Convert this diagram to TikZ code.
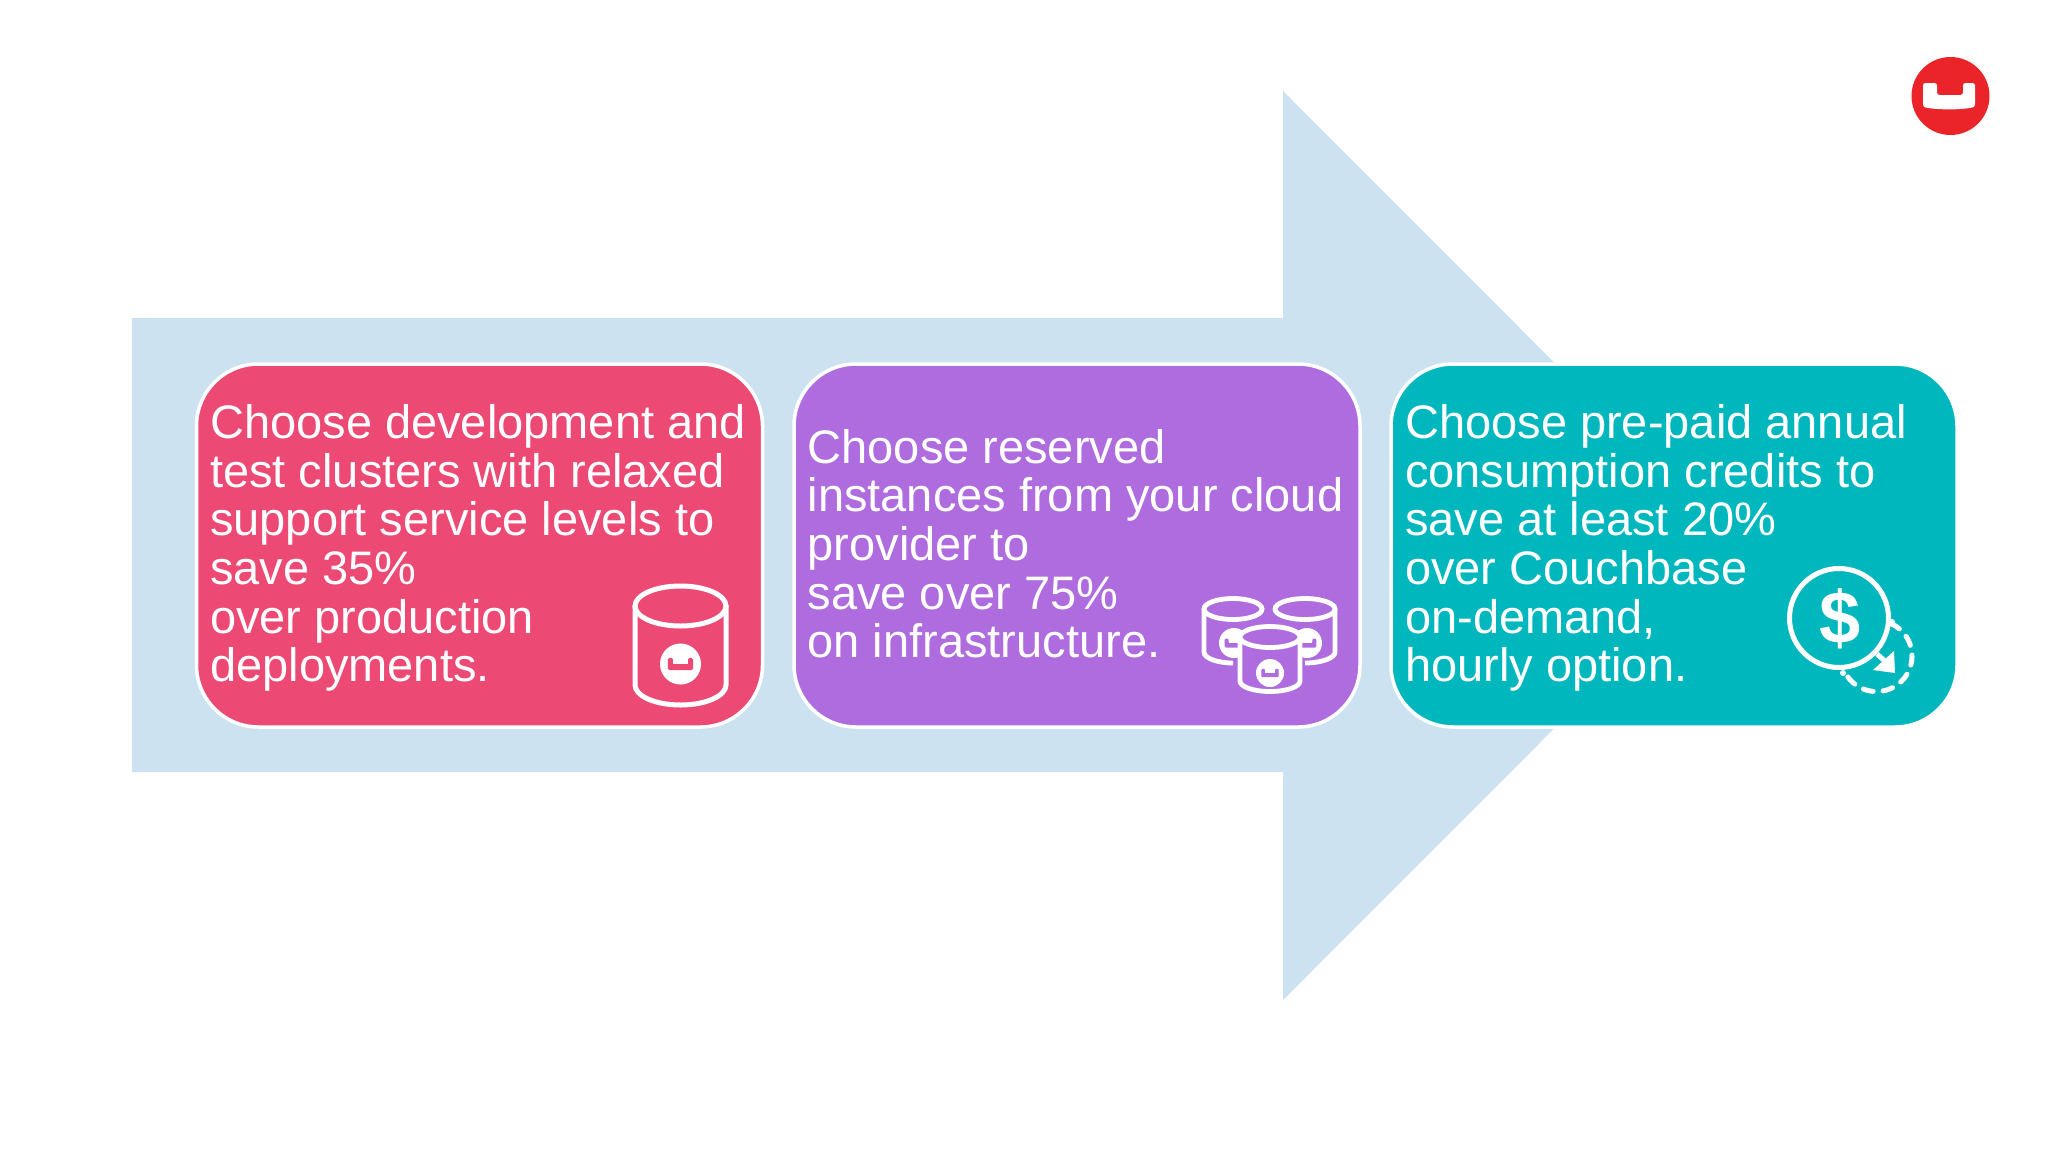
\documentclass[tikz,border=0pt]{standalone}
\usepackage{fontspec}
\setmainfont{Liberation Sans}
\definecolor{arrowblue}{HTML}{CCE2F1}
\definecolor{boxred}{HTML}{EC4A74}
\definecolor{boxpurple}{HTML}{AF6CDE}
\definecolor{boxteal}{HTML}{00B7BD}
\definecolor{logored}{HTML}{EA2429}
\tikzset{
  card/.style={draw=white,line width=3.5pt,rounded corners=62pt,minimum width=566pt,minimum height=363pt,inner sep=0pt},
  cardtext/.style={text=white,anchor=north west,align=left,inner sep=0pt,font=\fontsize{47}{48.6}\selectfont},
  icon/.style={draw=white,line width=5pt},
  iconthin/.style={draw=white,line width=4.8pt},
}
% #1 centre, #2 radius, #3 notch colour: Couchbase disc
\newcommand{\badge}[3]{%
  \fill[white] (#1) circle[radius=#2];
  \begin{scope}[shift={(#1)},x=#2pt,y=-#2pt]
    \fill[#3,rounded corners=0.08*#2pt] (-0.62,-0.3) -- (-0.36,-0.3) -- (-0.36,0) -- (0.36,0) -- (0.36,-0.3) -- (0.62,-0.3) -- (0.62,0.3) -- (-0.62,0.3) -- cycle;
    \fill[white] (-0.36,-0.32) rectangle (0.36,0);
  \end{scope}}
\begin{document}
\begin{tikzpicture}[x=1pt,y=-1pt]
\useasboundingbox (0,0) rectangle (2048,1152);
\fill[white] (0,0) rectangle (2048,1152);
% big arrow
\fill[arrowblue] (132,318) -- (1283,318) -- (1283,91) -- (1737,545.5) -- (1283,1000) -- (1283,772) -- (132,772) -- cycle;
% cards
\node[card,fill=boxred] (red) at (479.5,545.5) {};
\node[card,fill=boxpurple] (purple) at (1077,545.5) {};
\node[card,fill=boxteal] (teal) at (1674,545.5) {};
% texts
\node[cardtext] (redtext) at (210,404.5) {Choose development and\\test clusters with relaxed\\support service levels to\\save 35\%\\over production\\deployments.};
\node[cardtext] (purpletext) at (807.5,429) {Choose reserved\\instances from your cloud\\provider to\\save over 75\%\\on infrastructure.};
\node[cardtext] (tealtext) at (1405,404.5) {Choose pre-paid annual\\consumption credits to\\save at least 20\%\\over Couchbase\\on-demand,\\hourly option.};
% red icon: one cylinder
\draw[icon] (635,605) -- (635,685) arc[start angle=180,end angle=0,x radius=45.5,y radius=20] -- (726,605);
\draw[icon] (680.5,606) ellipse[x radius=45.5,y radius=20];
\badge{680.5,664}{20.5}{boxred}
% purple icon: three cylinders
\draw[iconthin] (1204,609) -- (1204,652) arc[start angle=180,end angle=90,x radius=29,y radius=11];
\draw[iconthin] (1233,609) ellipse[x radius=29,y radius=10.5];
\draw[iconthin] (1335,609) -- (1335,652) arc[start angle=0,end angle=90,x radius=30,y radius=11];
\draw[iconthin] (1305,609) ellipse[x radius=30,y radius=10.5];
\badge{1234,643}{15}{boxpurple}
\badge{1307,643}{15}{boxpurple}
\draw[iconthin,fill=boxpurple] (1240,637) -- (1240,681) arc[start angle=180,end angle=0,x radius=30,y radius=10.5] -- (1300,637);
\draw[iconthin,fill=boxpurple] (1270,637) ellipse[x radius=30,y radius=10.5];
\badge{1270,673}{14}{boxpurple}
% teal icon: dollar coin
\draw[icon,dash pattern=on 10pt off 10pt,line cap=round] (1876.5,656) ++(-66:35.5) arc[start angle=-66,end angle=154,radius=35.5];
\fill[white] (1892,622) circle[radius=3] (1843,673) circle[radius=3];
\draw[icon,fill=boxteal] (1839,618) circle[radius=49.5];
\node[text=white,inner sep=0pt,font=\fontsize{74}{74}\selectfont\bfseries] (dollar) at (1840,619) {\$};
\draw[white,line width=5pt] (1877,654) -- (1887,663);
\fill[white] (1894,651) -- (1895,673) -- (1873,670) -- cycle;
% logo
\fill[logored] (1950.5,96) circle[radius=39];
\fill[white,rounded corners=2.5pt] (1923,83) -- (1937,83) -- (1937,95) -- (1963,95) -- (1963,83) -- (1975,83) -- (1975,107) .. controls (1960,110) and (1938,110) .. (1923,107) -- cycle;
\end{tikzpicture}
\end{document}
